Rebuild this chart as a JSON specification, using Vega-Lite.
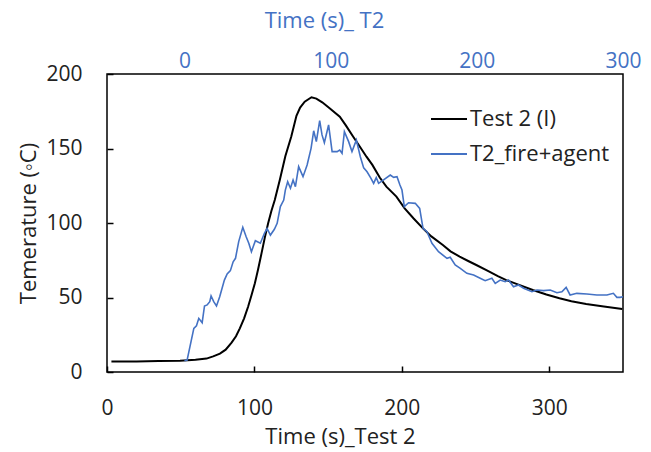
{
  "$schema": "https://vega.github.io/schema/vega-lite/v6.json",
  "width": 516,
  "height": 298,
  "autosize": {"type": "none"},
  "padding": {"left": 107, "top": 74, "right": 28, "bottom": 80},
  "background": "white",
  "config": {
    "view": {"stroke": "#000", "strokeWidth": 1.5},
    "font": "Open Sans",
    "axis": {
      "labelFont": "Open Sans", "labelFontSize": 21, "labelColor": "#222",
      "titleFont": "Open Sans", "titleFontSize": 22, "titleFontWeight": "normal", "titleColor": "#222",
      "grid": false, "domain": false, "tickColor": "#000", "tickWidth": 1.5,
      "labelFlush": false, "labelOverlap": false, "labelBound": false
    },
    "legend": {"labelFont": "Open Sans", "labelFontSize": 22, "labelColor": "#222"}
  },
  "datasets": {
    "test2": [
      {"series": "Test 2 (I)", "t": 3, "T": 7},
      {"series": "Test 2 (I)", "t": 20, "T": 7.1},
      {"series": "Test 2 (I)", "t": 35, "T": 7.3},
      {"series": "Test 2 (I)", "t": 49.5, "T": 7.5},
      {"series": "Test 2 (I)", "t": 60, "T": 8.2},
      {"series": "Test 2 (I)", "t": 67.5, "T": 9},
      {"series": "Test 2 (I)", "t": 72, "T": 10.5},
      {"series": "Test 2 (I)", "t": 76.6, "T": 12.3},
      {"series": "Test 2 (I)", "t": 80.5, "T": 15},
      {"series": "Test 2 (I)", "t": 84.5, "T": 19.7},
      {"series": "Test 2 (I)", "t": 87.5, "T": 24},
      {"series": "Test 2 (I)", "t": 90.1, "T": 29.3},
      {"series": "Test 2 (I)", "t": 93, "T": 36},
      {"series": "Test 2 (I)", "t": 95.7, "T": 43.8},
      {"series": "Test 2 (I)", "t": 98, "T": 51.5},
      {"series": "Test 2 (I)", "t": 100.3, "T": 59.5},
      {"series": "Test 2 (I)", "t": 102.5, "T": 69},
      {"series": "Test 2 (I)", "t": 104.8, "T": 79.6},
      {"series": "Test 2 (I)", "t": 107, "T": 90},
      {"series": "Test 2 (I)", "t": 109.3, "T": 99.8},
      {"series": "Test 2 (I)", "t": 111.5, "T": 108},
      {"series": "Test 2 (I)", "t": 113.8, "T": 115.4},
      {"series": "Test 2 (I)", "t": 117.2, "T": 128.9},
      {"series": "Test 2 (I)", "t": 121, "T": 145},
      {"series": "Test 2 (I)", "t": 125, "T": 158},
      {"series": "Test 2 (I)", "t": 128.5, "T": 172},
      {"series": "Test 2 (I)", "t": 131, "T": 177.5},
      {"series": "Test 2 (I)", "t": 134.1, "T": 181.4},
      {"series": "Test 2 (I)", "t": 138.7, "T": 184.4},
      {"series": "Test 2 (I)", "t": 142, "T": 183.5},
      {"series": "Test 2 (I)", "t": 146, "T": 181},
      {"series": "Test 2 (I)", "t": 151, "T": 177},
      {"series": "Test 2 (I)", "t": 157.9, "T": 171.3},
      {"series": "Test 2 (I)", "t": 162, "T": 165.5},
      {"series": "Test 2 (I)", "t": 166.9, "T": 158},
      {"series": "Test 2 (I)", "t": 171, "T": 152},
      {"series": "Test 2 (I)", "t": 176, "T": 144.5},
      {"series": "Test 2 (I)", "t": 180, "T": 139},
      {"series": "Test 2 (I)", "t": 185, "T": 130.5},
      {"series": "Test 2 (I)", "t": 189.5, "T": 124.4},
      {"series": "Test 2 (I)", "t": 196.3, "T": 117.7},
      {"series": "Test 2 (I)", "t": 201.9, "T": 109.8},
      {"series": "Test 2 (I)", "t": 208, "T": 103},
      {"series": "Test 2 (I)", "t": 214.3, "T": 96.4},
      {"series": "Test 2 (I)", "t": 220, "T": 91},
      {"series": "Test 2 (I)", "t": 227.8, "T": 85.2},
      {"series": "Test 2 (I)", "t": 233, "T": 81},
      {"series": "Test 2 (I)", "t": 239.2, "T": 77.4},
      {"series": "Test 2 (I)", "t": 245, "T": 74.5},
      {"series": "Test 2 (I)", "t": 250.5, "T": 71.8},
      {"series": "Test 2 (I)", "t": 258, "T": 68},
      {"series": "Test 2 (I)", "t": 265.1, "T": 64.4},
      {"series": "Test 2 (I)", "t": 270.8, "T": 61.7},
      {"series": "Test 2 (I)", "t": 280, "T": 58.3},
      {"series": "Test 2 (I)", "t": 288.8, "T": 55},
      {"series": "Test 2 (I)", "t": 298, "T": 52},
      {"series": "Test 2 (I)", "t": 306.9, "T": 49.5},
      {"series": "Test 2 (I)", "t": 315, "T": 47.5},
      {"series": "Test 2 (I)", "t": 325, "T": 45.6},
      {"series": "Test 2 (I)", "t": 337, "T": 44},
      {"series": "Test 2 (I)", "t": 349.5, "T": 42.3}
    ],
    "t2": [
      {"series": "T2_fire+agent", "t": 0, "T": 7.5},
      {"series": "T2_fire+agent", "t": 1.8, "T": 8},
      {"series": "T2_fire+agent", "t": 6.4, "T": 29.3},
      {"series": "T2_fire+agent", "t": 8.2, "T": 31},
      {"series": "T2_fire+agent", "t": 9.8, "T": 36},
      {"series": "T2_fire+agent", "t": 12.1, "T": 33.1},
      {"series": "T2_fire+agent", "t": 13.7, "T": 44.3},
      {"series": "T2_fire+agent", "t": 15.5, "T": 45},
      {"series": "T2_fire+agent", "t": 17.3, "T": 47.2},
      {"series": "T2_fire+agent", "t": 18.2, "T": 51},
      {"series": "T2_fire+agent", "t": 20, "T": 47.2},
      {"series": "T2_fire+agent", "t": 21.9, "T": 44.3},
      {"series": "T2_fire+agent", "t": 24.1, "T": 50.5},
      {"series": "T2_fire+agent", "t": 27.3, "T": 61.7},
      {"series": "T2_fire+agent", "t": 29.2, "T": 65.8},
      {"series": "T2_fire+agent", "t": 31.4, "T": 68},
      {"series": "T2_fire+agent", "t": 33.3, "T": 74},
      {"series": "T2_fire+agent", "t": 34.9, "T": 76.3},
      {"series": "T2_fire+agent", "t": 37.1, "T": 87.5},
      {"series": "T2_fire+agent", "t": 39.9, "T": 97.1},
      {"series": "T2_fire+agent", "t": 42.2, "T": 90.8},
      {"series": "T2_fire+agent", "t": 44, "T": 86.4},
      {"series": "T2_fire+agent", "t": 45.8, "T": 80.7},
      {"series": "T2_fire+agent", "t": 48.5, "T": 88.1},
      {"series": "T2_fire+agent", "t": 51.9, "T": 86.4},
      {"series": "T2_fire+agent", "t": 54.7, "T": 93.1},
      {"series": "T2_fire+agent", "t": 56.5, "T": 96.4},
      {"series": "T2_fire+agent", "t": 58.8, "T": 91.9},
      {"series": "T2_fire+agent", "t": 61.5, "T": 95.8},
      {"series": "T2_fire+agent", "t": 63.4, "T": 99.8},
      {"series": "T2_fire+agent", "t": 65.6, "T": 111},
      {"series": "T2_fire+agent", "t": 67.9, "T": 115.4},
      {"series": "T2_fire+agent", "t": 69, "T": 122.1},
      {"series": "T2_fire+agent", "t": 70.6, "T": 127.7},
      {"series": "T2_fire+agent", "t": 72.5, "T": 123.3},
      {"series": "T2_fire+agent", "t": 74.3, "T": 128.9},
      {"series": "T2_fire+agent", "t": 75.9, "T": 124.4},
      {"series": "T2_fire+agent", "t": 78.1, "T": 137.8},
      {"series": "T2_fire+agent", "t": 81.1, "T": 131.1},
      {"series": "T2_fire+agent", "t": 83.9, "T": 138.9},
      {"series": "T2_fire+agent", "t": 86.6, "T": 150.1},
      {"series": "T2_fire+agent", "t": 88.4, "T": 161.9},
      {"series": "T2_fire+agent", "t": 90.2, "T": 154.6},
      {"series": "T2_fire+agent", "t": 92.5, "T": 168.7},
      {"series": "T2_fire+agent", "t": 94.1, "T": 159.1},
      {"series": "T2_fire+agent", "t": 95.7, "T": 153.9},
      {"series": "T2_fire+agent", "t": 98.6, "T": 165.8},
      {"series": "T2_fire+agent", "t": 101, "T": 147.9},
      {"series": "T2_fire+agent", "t": 104.4, "T": 147.9},
      {"series": "T2_fire+agent", "t": 106.2, "T": 149},
      {"series": "T2_fire+agent", "t": 107.8, "T": 146.8},
      {"series": "T2_fire+agent", "t": 109.4, "T": 161.3},
      {"series": "T2_fire+agent", "t": 112.3, "T": 154.6},
      {"series": "T2_fire+agent", "t": 114.6, "T": 147.9},
      {"series": "T2_fire+agent", "t": 117.6, "T": 155.7},
      {"series": "T2_fire+agent", "t": 120.3, "T": 144.5},
      {"series": "T2_fire+agent", "t": 122.6, "T": 137},
      {"series": "T2_fire+agent", "t": 124.9, "T": 134.4},
      {"series": "T2_fire+agent", "t": 127.6, "T": 130},
      {"series": "T2_fire+agent", "t": 129.4, "T": 126.6},
      {"series": "T2_fire+agent", "t": 131.2, "T": 130.5},
      {"series": "T2_fire+agent", "t": 132.8, "T": 126.6},
      {"series": "T2_fire+agent", "t": 136.2, "T": 128.9},
      {"series": "T2_fire+agent", "t": 140.8, "T": 132.2},
      {"series": "T2_fire+agent", "t": 143.1, "T": 130.6},
      {"series": "T2_fire+agent", "t": 145.4, "T": 131.1},
      {"series": "T2_fire+agent", "t": 147.4, "T": 125.5},
      {"series": "T2_fire+agent", "t": 148.8, "T": 122.1},
      {"series": "T2_fire+agent", "t": 150.4, "T": 111},
      {"series": "T2_fire+agent", "t": 153.3, "T": 113.6},
      {"series": "T2_fire+agent", "t": 157.9, "T": 113.2},
      {"series": "T2_fire+agent", "t": 160.9, "T": 109.8},
      {"series": "T2_fire+agent", "t": 163.2, "T": 96.4},
      {"series": "T2_fire+agent", "t": 165.9, "T": 94.2},
      {"series": "T2_fire+agent", "t": 169.3, "T": 86.4},
      {"series": "T2_fire+agent", "t": 173.8, "T": 80.7},
      {"series": "T2_fire+agent", "t": 179.6, "T": 76.3},
      {"series": "T2_fire+agent", "t": 181.8, "T": 77},
      {"series": "T2_fire+agent", "t": 185.2, "T": 71.8},
      {"series": "T2_fire+agent", "t": 188.7, "T": 69.6},
      {"series": "T2_fire+agent", "t": 193.2, "T": 66.2},
      {"series": "T2_fire+agent", "t": 197.8, "T": 65.1},
      {"series": "T2_fire+agent", "t": 202.3, "T": 62.9},
      {"series": "T2_fire+agent", "t": 205.7, "T": 61.3},
      {"series": "T2_fire+agent", "t": 210.3, "T": 62.9},
      {"series": "T2_fire+agent", "t": 212.6, "T": 59.5},
      {"series": "T2_fire+agent", "t": 216, "T": 61.7},
      {"series": "T2_fire+agent", "t": 219.4, "T": 60.6},
      {"series": "T2_fire+agent", "t": 221.7, "T": 61.7},
      {"series": "T2_fire+agent", "t": 225.1, "T": 57.2},
      {"series": "T2_fire+agent", "t": 228.5, "T": 58.4},
      {"series": "T2_fire+agent", "t": 232, "T": 56.2},
      {"series": "T2_fire+agent", "t": 237.7, "T": 53.9},
      {"series": "T2_fire+agent", "t": 241.1, "T": 55},
      {"series": "T2_fire+agent", "t": 245.6, "T": 54.6},
      {"series": "T2_fire+agent", "t": 250.2, "T": 55},
      {"series": "T2_fire+agent", "t": 254.8, "T": 53.2},
      {"series": "T2_fire+agent", "t": 258.2, "T": 53.9},
      {"series": "T2_fire+agent", "t": 261.1, "T": 56.8},
      {"series": "T2_fire+agent", "t": 263.8, "T": 51.7},
      {"series": "T2_fire+agent", "t": 268.4, "T": 52.8},
      {"series": "T2_fire+agent", "t": 275.3, "T": 52.3},
      {"series": "T2_fire+agent", "t": 282.1, "T": 51.7},
      {"series": "T2_fire+agent", "t": 289, "T": 51.7},
      {"series": "T2_fire+agent", "t": 293.4, "T": 52.8},
      {"series": "T2_fire+agent", "t": 295.8, "T": 50.1},
      {"series": "T2_fire+agent", "t": 298, "T": 50.1},
      {"series": "T2_fire+agent", "t": 300, "T": 50.5}
    ]
  },
  "encoding": {
    "y": {
      "field": "T", "type": "quantitative",
      "scale": {"domain": [0, 200], "nice": false, "zero": false},
      "axis": {"values": [0, 50, 100, 150, 200], "tickSize": -6, "labelPadding": 31, "title": "Temerature (◦C)", "titlePadding": 5}
    },
    "color": {
      "field": "series", "type": "nominal",
      "scale": {"domain": ["Test 2 (I)", "T2_fire+agent"], "range": ["#000000", "#4472C4"]},
      "legend": {
        "title": null, "orient": "none", "legendX": 323, "legendY": 26,
        "symbolType": "stroke", "symbolSize": 1296, "symbolStrokeWidth": 2,
        "labelOffset": 2, "rowPadding": 5
      }
    }
  },
  "layer": [
    {
      "data": {"name": "test2"},
      "mark": {"type": "line", "strokeWidth": 2, "clip": true},
      "encoding": {
        "x": {
          "field": "t", "type": "quantitative",
          "scale": {"domain": [0, 350], "nice": false, "zero": false},
          "axis": {"orient": "bottom", "values": [0, 100, 200, 300], "tickSize": -6, "labelPadding": 31, "title": "Time (s)_Test 2", "titlePadding": 8, "titleX": 233}
        },
        "order": {"field": "t", "type": "quantitative"}
      }
    },
    {
      "data": {"name": "t2"},
      "mark": {"type": "line", "strokeWidth": 1.6, "clip": true},
      "encoding": {
        "x": {
          "field": "t", "type": "quantitative",
          "scale": {"domain": [-53, 300], "nice": false, "zero": false},
          "axis": {"orient": "top", "values": [0, 100, 200, 300], "ticks": false, "labelPadding": 3, "labelColor": "#4472C4", "title": "Time (s)_ T2", "titleColor": "#4472C4", "titlePadding": 18, "titleX": 217}
        },
        "order": {"field": "t", "type": "quantitative"}
      }
    }
  ],
  "resolve": {"scale": {"x": "independent"}, "axis": {"x": "independent"}}
}
